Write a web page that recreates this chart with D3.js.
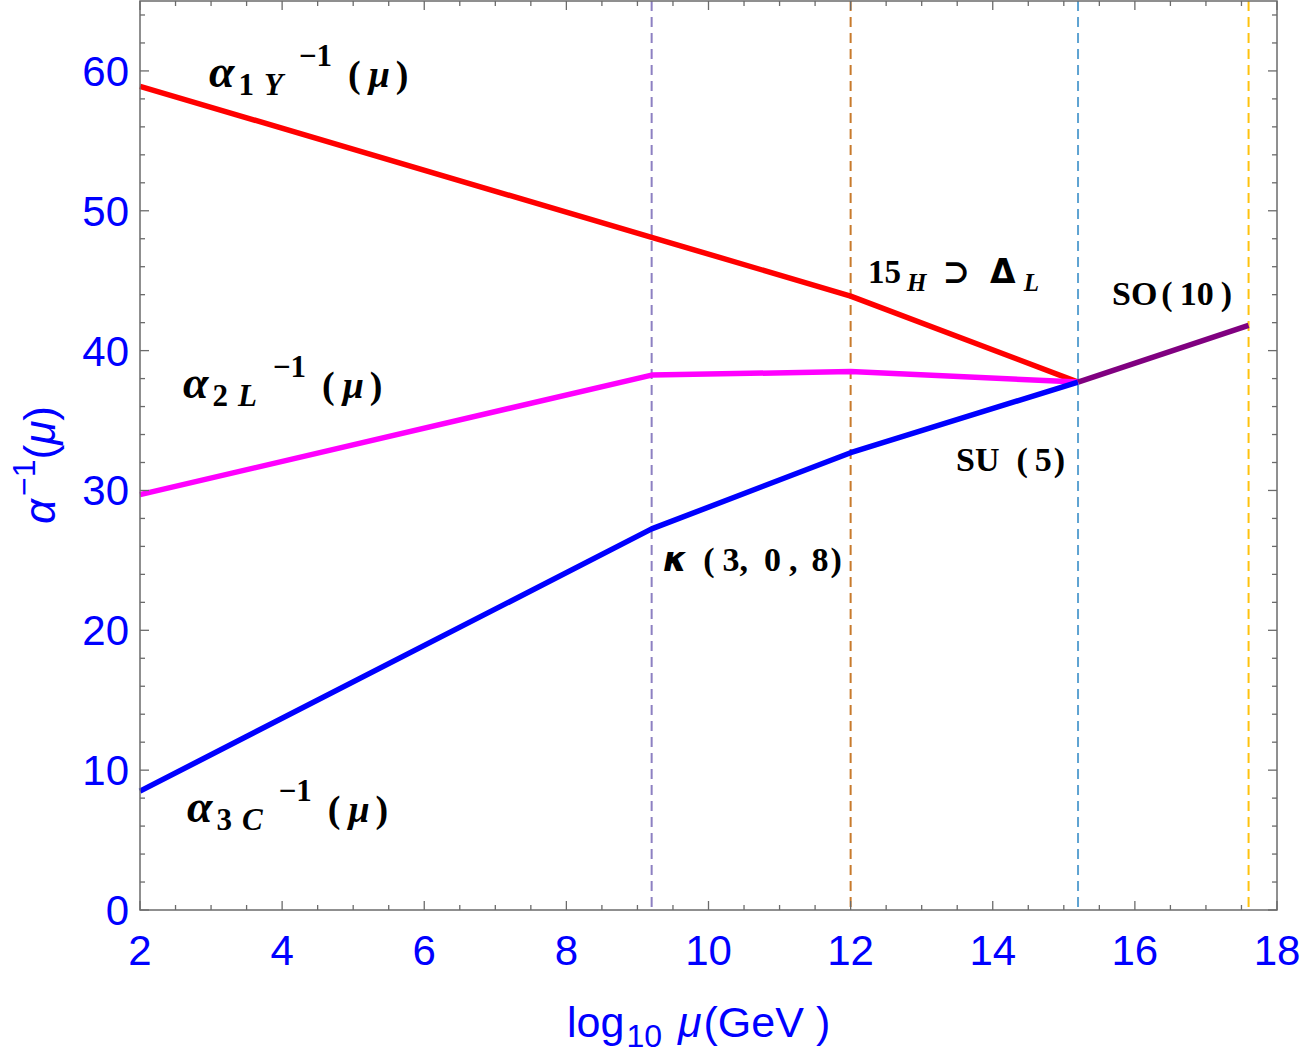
<!doctype html>
<html lang="en">
<head>
    <meta charset="utf-8">
    <title>Gauge coupling running</title>
    <script src="https://cdn.jsdelivr.net/npm/d3@7"></script>
    <style>
        body { margin: 0; background: #fff; }
    </style>
</head>
<body>
<script>
    // scale points (log10 mu) where the running changes
    var breaks = [2, 9.2, 12, 15.2];
    // inverse couplings at those points
    var alpha1Y = [58.9, 48.1, 43.9, 37.75];
    var alpha2L = [29.7, 38.25, 38.5, 37.75];
    var alpha3C = [8.5, 27.25, 32.7, 37.75];
    // unified SO(10) segment
    var so10X = [15.2, 17.6];
    var so10Y = [37.75, 41.8];
    // vertical threshold lines
    var thresholds = [9.2, 12, 15.2, 17.6];
    var thresholdColors = ["#8d80c2", "#c87a2c", "#5ea3d2", "#ffc20e"];
    var xTicks = [2, 4, 6, 8, 10, 12, 14, 16, 18];
    var yTicks = [0, 10, 20, 30, 40, 50, 60];

    var width = 1307, height = 1053;
    var plotLeft = 140, plotRight = 1277, plotTop = 1, plotBottom = 910;

    var svg = d3.select("body").append("svg")
        .attr("width", width)
        .attr("height", height);

    var x = d3.scaleLinear().domain([2, 18]).range([plotLeft, plotRight]);
    var y = d3.scaleLinear().domain([0, 65]).range([plotBottom, plotTop]);

    // threshold lines
    svg.selectAll("line.thr")
        .data(thresholds)
        .enter()
        .append("line")
        .attr("class", "thr")
        .attr("x1", function(d) { return x(d); })
        .attr("x2", function(d) { return x(d); })
        .attr("y1", y(65))
        .attr("y2", y(0))
        .attr("stroke", function(d, i) { return thresholdColors[i]; })
        .attr("stroke-width", 2)
        .attr("stroke-dasharray", "10,6");

    var line = d3.line()
        .x(function(d) { return x(d[0]); })
        .y(function(d) { return y(d[1]); });

    function series(xs, ys) {
        return xs.map(function(v, i) { return [v, ys[i]]; });
    }

    var curves = [
        { pts: series(breaks, alpha1Y), color: "#ff0000" },
        { pts: series(breaks, alpha2L), color: "#ff00ff" },
        { pts: series(breaks, alpha3C), color: "#0000ff" },
        { pts: series(so10X, so10Y), color: "#800080" }
    ];

    svg.selectAll("path.curve")
        .data(curves)
        .enter()
        .append("path")
        .attr("class", "curve")
        .attr("d", function(d) { return line(d.pts); })
        .attr("fill", "none")
        .attr("stroke", function(d) { return d.color; })
        .attr("stroke-width", 5.5)
        .attr("stroke-linejoin", "round");

    // frame
    svg.append("rect")
        .attr("x", plotLeft)
        .attr("y", plotTop)
        .attr("width", plotRight - plotLeft)
        .attr("height", plotBottom - plotTop)
        .attr("fill", "none")
        .attr("stroke", "#6b6b6b")
        .attr("stroke-width", 1.5);

    // ticks on all four sides, pointing inwards
    var xMinor = d3.range(2, 18.01, 0.5);
    var yMinor = d3.range(0, 65.01, 2);
    var ticks = svg.append("g").attr("stroke", "#6b6b6b").attr("stroke-width", 1.3);

    xMinor.forEach(function(v) {
        var len = (v % 2 === 0) ? 9 : 5;
        ticks.append("line").attr("x1", x(v)).attr("x2", x(v))
            .attr("y1", plotBottom).attr("y2", plotBottom - len);
        ticks.append("line").attr("x1", x(v)).attr("x2", x(v))
            .attr("y1", plotTop).attr("y2", plotTop + len);
    });
    yMinor.forEach(function(v) {
        var len = (v % 10 === 0) ? 9 : 5;
        ticks.append("line").attr("y1", y(v)).attr("y2", y(v))
            .attr("x1", plotLeft).attr("x2", plotLeft + len);
        ticks.append("line").attr("y1", y(v)).attr("y2", y(v))
            .attr("x1", plotRight).attr("x2", plotRight - len);
    });

    var tickFont = "'Liberation Sans', Arial, sans-serif";

    svg.selectAll("text.xt")
        .data(xTicks)
        .enter()
        .append("text")
        .attr("class", "xt")
        .attr("x", function(d) { return x(d); })
        .attr("y", 965)
        .attr("text-anchor", "middle")
        .attr("font-family", tickFont)
        .attr("font-size", 42)
        .attr("fill", "#0000ff")
        .text(function(d) { return d; });

    svg.selectAll("text.yt")
        .data(yTicks)
        .enter()
        .append("text")
        .attr("class", "yt")
        .attr("x", plotLeft - 11)
        .attr("y", function(d) { return y(d) + 15; })
        .attr("text-anchor", "end")
        .attr("font-family", tickFont)
        .attr("font-size", 42)
        .attr("fill", "#0000ff")
        .text(function(d) { return d; });

    // axis titles
    var xl = svg.append("text")
        .attr("x", 567)
        .attr("y", 1037)
        .attr("font-family", tickFont)
        .attr("font-size", 43)
        .attr("fill", "#0000ff");
    xl.append("tspan").text("log");
    xl.append("tspan").attr("font-size", 32).attr("dy", 10).attr("dx", 2).text("10");
    xl.append("tspan").attr("dy", -10).attr("dx", 16).attr("font-style", "italic").text("μ");
    xl.append("tspan").attr("dx", 2).text("(GeV");
    xl.append("tspan").attr("dx", 12).text(")");

    var yl = svg.append("text")
        .attr("transform", "translate(55,524) rotate(-90)")
        .attr("font-family", tickFont)
        .attr("font-size", 44)
        .attr("fill", "#0000ff");
    yl.append("tspan").attr("font-style", "italic").text("α");
    yl.append("tspan").attr("font-size", 32).attr("dy", -20).attr("dx", 3).text("−1");
    yl.append("tspan").attr("dy", 20).text("(");
    yl.append("tspan").attr("font-style", "italic").text("μ");
    yl.append("tspan").text(")");

    // coupling labels
    var serif = "'Liberation Serif', 'DejaVu Serif', serif";

    function couplingLabel(px, py, sub1, sub2) {
        var t = svg.append("text")
            .attr("x", px)
            .attr("y", py)
            .attr("font-family", serif)
            .attr("font-weight", "bold")
            .attr("fill", "#000");
        t.append("tspan").attr("font-size", 46).attr("font-style", "italic").text("α");
        t.append("tspan").attr("font-size", 31).attr("dy", 8).attr("dx", 4).text(sub1);
        t.append("tspan").attr("font-size", 31).attr("dx", 10).attr("font-style", "italic").text(sub2);
        t.append("tspan").attr("font-size", 31).attr("dx", 16).attr("dy", -29).text("−1");
        t.append("tspan").attr("font-size", 38).attr("dx", 16).attr("dy", 21).text("(");
        t.append("tspan").attr("font-size", 38).attr("dx", 8).attr("font-style", "italic").text("μ");
        t.append("tspan").attr("font-size", 38).attr("dx", 6).text(")");
    }
    couplingLabel(209, 87, "1", "Y");
    couplingLabel(183, 398, "2", "L");
    couplingLabel(187, 822, "3", "C");

    // region labels
    function plainLabel(px, py, size) {
        return svg.append("text")
            .attr("x", px)
            .attr("y", py)
            .attr("font-family", serif)
            .attr("font-weight", "bold")
            .attr("font-size", size)
            .attr("fill", "#000");
    }

    var l15 = plainLabel(868, 283, 33);
    l15.append("tspan").text("15");
    l15.append("tspan").attr("font-size", 25).attr("dy", 8).attr("dx", 6).attr("font-style", "italic").text("H");
    l15.append("tspan").attr("dy", -8).attr("dx", 16).text("⊃");
    l15.append("tspan").attr("dx", 20).attr("font-family", "'DejaVu Sans', sans-serif").text("Δ");
    l15.append("tspan").attr("font-size", 25).attr("dy", 8).attr("dx", 8).attr("font-style", "italic").text("L");

    var lso = plainLabel(1112, 305, 34);
    lso.append("tspan").text("SO");
    lso.append("tspan").attr("dx", 4).text("(");
    lso.append("tspan").attr("dx", 7).text("10");
    lso.append("tspan").attr("dx", 7).text(")");

    var lsu = plainLabel(956, 471, 34);
    lsu.append("tspan").text("SU");
    lsu.append("tspan").attr("dx", 17).text("(");
    lsu.append("tspan").attr("dx", 7).text("5");
    lsu.append("tspan").attr("dx", 2).text(")");

    var lk = plainLabel(663, 571, 34);
    lk.append("tspan").attr("font-style", "italic").attr("font-family", "'DejaVu Sans', sans-serif").text("κ");
    lk.append("tspan").attr("dx", 16).text("(");
    lk.append("tspan").attr("dx", 8).text("3,");
    lk.append("tspan").attr("dx", 16).text("0");
    lk.append("tspan").attr("dx", 8).text(",");
    lk.append("tspan").attr("dx", 14).text("8");
    lk.append("tspan").attr("dx", 2).text(")");
</script>
</body>
</html>
